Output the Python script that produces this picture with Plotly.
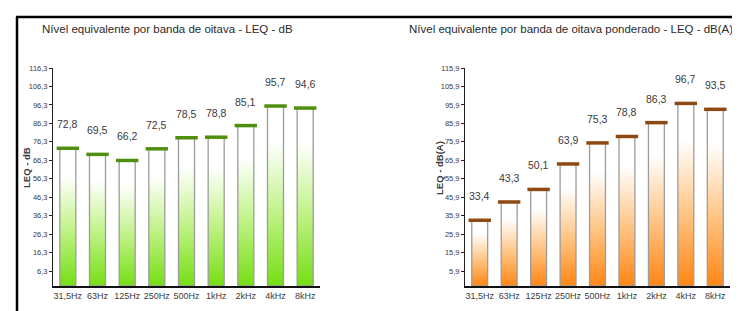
import plotly.graph_objects as go

# ---- data ----
bands = ["31,5Hz", "63Hz", "125Hz", "250Hz", "500Hz", "1kHz", "2kHz", "4kHz", "8kHz"]
leq_db = [72.8, 69.5, 66.2, 72.5, 78.5, 78.8, 85.1, 95.7, 94.6]
leq_dba = [33.4, 43.3, 50.1, 63.9, 75.3, 78.8, 86.3, 96.7, 93.5]

title_left = "Nível equivalente por banda de oitava - LEQ - dB"
title_right = "Nível equivalente por banda de oitava ponderado - LEQ - dB(A)"
ytitle_left = "LEQ - dB"
ytitle_right = "LEQ - dB(A)"

# axis settings (tick start, top)
left_tick0, left_top = 6.3, 116.3
right_tick0, right_top = 5.9, 115.9

W, H = 740, 311
FONT = "Liberation Sans Narrow, Arial Narrow, Liberation Sans, Arial, sans-serif"
TXT = "#3a3a3a"


def px(x):
    return x / W


def py(y):
    return (H - y) / H


fig = go.Figure()

panels = [
    dict(vals=leq_db, xa="x", ya="y", tick0=left_tick0, top=left_top,
         dom_x=(45, 312), bottom="#76de14", mid="#bff285", cap="#4f8f10",
         title=title_left, tcx=159, ytitle=ytitle_left, ytx=18),
    dict(vals=leq_dba, xa="x2", ya="y2", tick0=right_tick0, top=right_top,
         dom_x=(457, 722), bottom="#ff8614", mid="#ffc585", cap="#8c4a12",
         title=title_right, tcx=563, ytitle=ytitle_right, ytx=431),
]

half = 0.27
annotations = []
for p in panels:
    # pixel mapping: top tick at y=60, first tick at y=263, baseline at y=278
    unit_px = (263 - 60) / (p["top"] - p["tick0"])
    ymin = p["tick0"] - (278 - 263) / unit_px
    p["ymin"] = ymin
    for i, v in enumerate(p["vals"]):
        fig.add_trace(go.Scatter(
            x=[i - half, i + half, i + half, i - half, i - half],
            y=[ymin, ymin, v, v, ymin],
            mode="lines", fill="toself",
            fillgradient=dict(type="vertical",
                              colorscale=[[0, p["bottom"]], [0.4, p["mid"]], [0.8, "#ffffff"], [1, "#ffffff"]],
                              start=ymin, stop=v),
            line=dict(color="#9c9c9c", width=1.3),
            xaxis=p["xa"], yaxis=p["ya"], showlegend=False, hoverinfo="skip",
        ))
    # caps
    fig.add_trace(go.Scatter(
        x=list(range(len(p["vals"]))), y=p["vals"], mode="markers",
        marker=dict(symbol="line-ew", size=16, line=dict(color=p["cap"], width=3.5)),
        xaxis=p["xa"], yaxis=p["ya"], showlegend=False, hoverinfo="skip",
    ))
    # value labels
    for i, v in enumerate(p["vals"]):
        annotations.append(dict(
            x=i, y=v, xref=p["xa"], yref=p["ya"], text=f"{v:.1f}".replace(".", ","),
            showarrow=False, yshift=24, font=dict(family=FONT, size=10.5, color=TXT),
        ))
    annotations.append(dict(
        x=px(p["tcx"]), y=py(21), xref="paper", yref="paper", text=p["title"],
        showarrow=False, font=dict(family=FONT, size=11.5, color="#2a2a2a"),
        xanchor="center", yanchor="middle",
    ))
    annotations.append(dict(
        x=px(p["ytx"]), y=py(160), xref="paper", yref="paper", text="<b>" + p["ytitle"] + "</b>",
        showarrow=False, textangle=-90, font=dict(family=FONT, size=9.5, color=TXT),
        xanchor="center", yanchor="middle",
    ))

axis_common_x = dict(
    tickmode="array", tickvals=list(range(len(bands))), ticktext=bands,
    range=[-0.5, len(bands) - 0.5], showgrid=False, zeroline=False,
    showline=True, linecolor="#111111", linewidth=2, ticks="", tickangle=0,
    tickfont=dict(family=FONT, size=9, color=TXT), automargin=False,
)

layout = dict(
    width=W, height=H, margin=dict(l=0, r=0, t=0, b=0),
    paper_bgcolor="white", plot_bgcolor="white", separators=",.",
    annotations=annotations, showlegend=False,
)
for k, p in enumerate(panels):
    sfx = "" if k == 0 else str(k + 1)
    layout["xaxis" + sfx] = dict(axis_common_x, domain=[px(p["dom_x"][0]), px(p["dom_x"][1])],
                                 anchor="y" + sfx)
    layout["yaxis" + sfx] = dict(
        domain=[py(278), py(60)], range=[p["ymin"], p["top"]], anchor="x" + sfx,
        tick0=p["tick0"], dtick=10, tickformat=".1f", showgrid=False, zeroline=False,
        showline=True, linecolor="#222222", linewidth=1, ticks="outside", ticklen=3,
        tickcolor="#222222", tickfont=dict(family=FONT, size=7.5, color=TXT), automargin=False,
    )

# outer frame
layout["shapes"] = [
    dict(type="line", xref="paper", yref="paper", x0=px(8), x1=px(734), y0=py(9), y1=py(9),
         line=dict(color="black", width=2.5)),
    dict(type="line", xref="paper", yref="paper", x0=px(9), x1=px(9), y0=py(9), y1=0,
         line=dict(color="black", width=2.5)),
    dict(type="line", xref="paper", yref="paper", x0=px(733), x1=px(733), y0=py(9), y1=0,
         line=dict(color="black", width=2.5)),
]

fig.update_layout(**layout)
fig.write_html("out.html")
